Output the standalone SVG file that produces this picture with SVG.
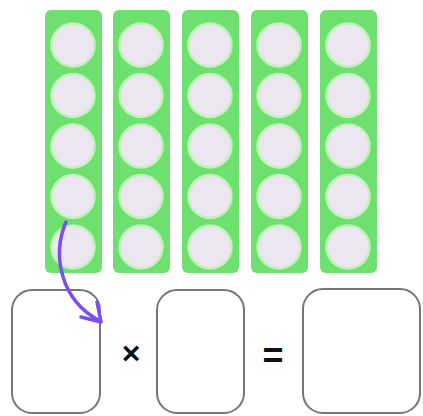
<svg xmlns="http://www.w3.org/2000/svg" width="423" height="416" viewBox="0 0 423 416">
<style>
.strip{fill:#6ee06f}
.dot{fill:#ebe6ef;stroke:#c0f3b8;stroke-width:2.5}
.box{fill:#fff;stroke:#767676;stroke-width:2}
.op{font-family:"Liberation Sans",Arial,sans-serif;font-weight:bold;fill:#111;text-anchor:middle}
.arrow{fill:none;stroke:#7a4ff0;stroke-width:3.5;stroke-linecap:round;stroke-linejoin:round}
</style>
<defs>
<g id="dots">
<circle class="dot" cx="28" cy="35" r="21.5"/>
<circle class="dot" cx="28" cy="85.5" r="21.5"/>
<circle class="dot" cx="28" cy="136" r="21.5"/>
<circle class="dot" cx="28" cy="186.5" r="21.5"/>
<circle class="dot" cx="28" cy="237" r="21.5"/>
</g>
</defs>
<rect width="423" height="416" fill="#fff"/>
<g id="strip1" transform="translate(45,10)"><rect class="strip" width="57" height="263" rx="6"/><use href="#dots"/></g>
<g id="strip2" transform="translate(113,10)"><rect class="strip" width="57" height="263" rx="6"/><use href="#dots"/></g>
<g id="strip3" transform="translate(182,10)"><rect class="strip" width="57" height="263" rx="6"/><use href="#dots"/></g>
<g id="strip4" transform="translate(251,10)"><rect class="strip" width="57" height="263" rx="6"/><use href="#dots"/></g>
<g id="strip5" transform="translate(320,10)"><rect class="strip" width="57" height="263" rx="6"/><use href="#dots"/></g>
<g id="box1"><rect class="box" x="12" y="290" width="88" height="123" rx="20"/></g>
<g id="times"><text class="op" x="131" y="364" font-size="32">×</text></g>
<g id="box2"><rect class="box" x="157" y="290" width="87" height="123" rx="20"/></g>
<g id="equals"><text class="op" x="273" y="368" font-size="36">=</text></g>
<g id="box3"><rect class="box" x="303" y="289" width="117" height="124" rx="20"/></g>
<g id="connectors">
<path class="arrow" d="M66,222 C52,255 60,300 100,321"/>
<path class="arrow" d="M81,317 L101,322 L97,302"/>
</g>
</svg>
